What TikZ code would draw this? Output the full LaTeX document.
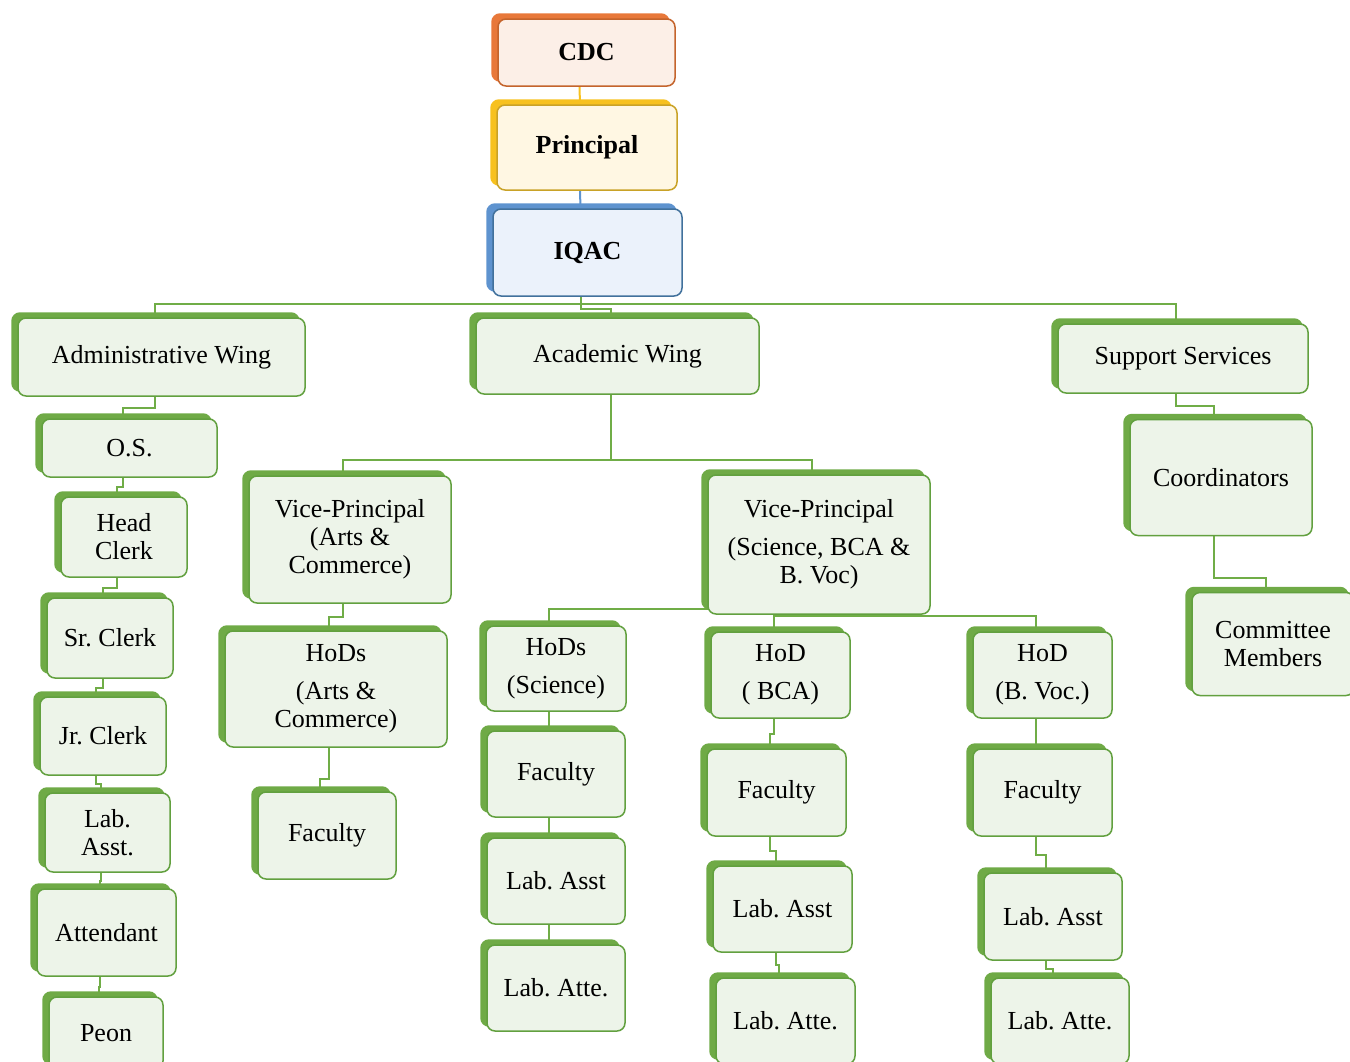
\documentclass[tikz,border=0pt]{standalone}
\usepackage{fontspec}
\setmainfont{Liberation Serif}
\frenchspacing
\usetikzlibrary{shadows,backgrounds,calc}

\definecolor{gshade}{HTML}{6FAA46}
\definecolor{gline}{HTML}{62A03F}
\definecolor{gfill}{HTML}{EDF4E9}
\definecolor{glink}{HTML}{70AD47}
\definecolor{cdcfill}{HTML}{FCEFE7}
\definecolor{cdcline}{HTML}{C4642C}
\definecolor{cdcshade}{HTML}{E8783A}
\definecolor{prinfill}{HTML}{FFF7E3}
\definecolor{prinline}{HTML}{C9A227}
\definecolor{prinshade}{HTML}{F7C11F}
\definecolor{iqacfill}{HTML}{EBF2FB}
\definecolor{iqacline}{HTML}{41719C}
\definecolor{iqacshade}{HTML}{5E93CF}

\begin{document}
\begin{tikzpicture}[x=1pt,y=1pt]
  \tikzset{
    orgbox/.style n args={3}{
      draw=#2,
      fill=#1,
      line width=1.5pt,
      rounded corners=8pt,
      inner sep=2pt,
      align=center,
      font=\fontsize{26}{28}\selectfont,
      copy shadow={shadow xshift=-6pt, shadow yshift=5pt, fill=#3, draw=#3}
    },
    greenbox/.style={orgbox={gfill}{gline}{gshade}},
    boxsize/.style 2 args={minimum width=#1pt, minimum height=#2pt},
    link/.style={draw=glink, line width=2pt}
  }

  \useasboundingbox (0,0) rectangle (1350,-1061);

  % top
  \node[orgbox={cdcfill}{cdcline}{cdcshade}, boxsize={177}{67}, font=\fontsize{26}{28}\selectfont\bfseries] (cdc) at (586.5,-52.5) {CDC};
  \node[orgbox={prinfill}{prinline}{prinshade}, boxsize={180}{85}, font=\fontsize{26}{28}\selectfont\bfseries] (prin) at (587,-147.5) {Principal};
  \node[orgbox={iqacfill}{iqacline}{iqacshade}, boxsize={189}{87}, font=\fontsize{26}{28}\selectfont\bfseries] (iqac) at (587.5,-252.5) {IQAC};

  % wings
  \node[greenbox, boxsize={287}{78}] (adm) at (161.5,-357) {Administrative Wing};
  \node[greenbox, boxsize={283}{76}] (acad) at (617.5,-356) {Academic Wing};
  \node[greenbox, boxsize={250}{69}] (supp) at (1183,-358.5) {Support Services};

  % administrative column
  \node[greenbox, boxsize={175}{58}] (os) at (129.5,-448) {O.S.};
  \node[greenbox, boxsize={126}{80}] (hc) at (124,-537) {Head\\Clerk};
  \node[greenbox, boxsize={126}{80}] (sr) at (110,-638) {Sr. Clerk};
  \node[greenbox, boxsize={126}{78}] (jr) at (103,-736) {Jr. Clerk};
  \node[greenbox, boxsize={125}{79}] (lab) at (107.5,-832.5) {Lab.\\Asst.};
  \node[greenbox, boxsize={139}{87}] (att) at (106.5,-932.5) {Attendant};
  \node[greenbox, boxsize={114}{72}] (peon) at (106,-1033) {Peon};

  % academic wing
  \node[greenbox, boxsize={202}{127}] (vpa) at (350,-539.5) {Vice-Principal\\(Arts \&\\Commerce)};
  \node[greenbox, boxsize={222}{139}] (vps) at (819,-544.5) {Vice-Principal\\[10pt](Science, BCA \&\\B. Voc)};
  \node[greenbox, boxsize={222}{116}] (hoda) at (336,-689) {HoDs\\[10pt](Arts \&\\Commerce)};
  \node[greenbox, boxsize={138}{87}] (faca) at (327,-835.5) {Faculty};

  \node[greenbox, boxsize={140}{85}] (hods) at (556,-668.5) {HoDs\\[10pt](Science)};
  \node[greenbox, boxsize={138}{86}] (facs) at (556,-774) {Faculty};
  \node[greenbox, boxsize={138}{86}] (labs) at (556,-881) {Lab. Asst};
  \node[greenbox, boxsize={138}{86}] (ates) at (556,-988) {Lab. Atte.};

  \node[greenbox, boxsize={139}{86}] (hodb) at (780.5,-675) {HoD\\[10pt]( BCA)};
  \node[greenbox, boxsize={139}{87}] (facb) at (776.5,-792.5) {Faculty};
  \node[greenbox, boxsize={139}{86}] (labb) at (782.5,-909) {Lab. Asst};
  \node[greenbox, boxsize={139}{86}] (ateb) at (785.5,-1021) {Lab. Atte.};

  \node[greenbox, boxsize={139}{86}] (hodv) at (1042.5,-675) {HoD\\[10pt](B. Voc.)};
  \node[greenbox, boxsize={139}{87}] (facv) at (1042.5,-792.5) {Faculty};
  \node[greenbox, boxsize={138}{87}] (labv) at (1053,-916.5) {Lab. Asst};
  \node[greenbox, boxsize={138}{86}] (atev) at (1060,-1021) {Lab. Atte.};

  % support services
  \node[greenbox, boxsize={182}{116}] (coord) at (1221,-477.5) {Coordinators};
  \node[greenbox, boxsize={162}{103}] (comm) at (1273,-644) {Committee\\Members};

  \begin{scope}[on background layer]
    \draw[line width=2pt, prinshade] ([xshift=-7pt]cdc.south) -- ([xshift=-7pt]prin.north);
    \draw[line width=2pt, iqacshade] ([xshift=-7pt]prin.south) -- ([xshift=-7pt]iqac.north);

    \draw[link] ([xshift=-7pt]iqac.south) -- ++(0,-7) coordinate (hub);
    \draw[link] (hub) -| ([xshift=-7pt]adm.north);
    \draw[link] (hub) -| ([xshift=-7pt]supp.north);
    \draw[link] (hub) -- ++(0,-5) -| ([xshift=-7pt]acad.north);

    \draw[link] ([xshift=-7pt]acad.south) -- ([xshift=-7pt]acad.south |- 0,-460) coordinate (acadhub);
    \draw[link] (acadhub) -| ([xshift=-7pt]vpa.north);
    \draw[link] (acadhub) -| ([xshift=-7pt]vps.north);

    \draw[link] ([xshift=-7pt]vps.south) -- ([xshift=-7pt]vps.south |- 0,-616) coordinate (vpshub);
    \draw[link] ([xshift=-7pt]vps.south |- 0,-609) -| ([xshift=-7pt]hods.north);
    \draw[link] (vpshub) -| ([xshift=-7pt]hodb.north);
    \draw[link] (vpshub) -| ([xshift=-7pt]hodv.north);

    \draw[link] ([xshift=-7pt]coord.south) |- (1240,-578) -| ([xshift=-7pt]comm.north);
    \draw[link] ([xshift=-7pt]hoda.south) |- (325,-779) -| ([xshift=-7pt]faca.north);

    \foreach \p/\c in {adm/os, os/hc, hc/sr, sr/jr, jr/lab, lab/att, att/peon,
                       vpa/hoda, hods/facs, facs/labs, labs/ates,
                       hodb/facb, facb/labb, labb/ateb, hodv/facv, facv/labv,
                       labv/atev, supp/coord}
      \draw[link] ([xshift=-7pt]\p.south)
        |- ($([xshift=-7pt]\p.south)!.5!([xshift=-7pt]\c.north)$)
        -| ([xshift=-7pt]\c.north);
  \end{scope}
\end{tikzpicture}
\end{document}
